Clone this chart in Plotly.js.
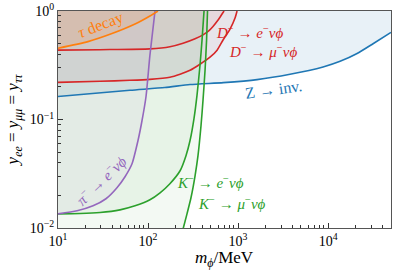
<!DOCTYPE html>
<html>
<head>
<meta charset="utf-8">
<script src="https://cdn.plot.ly/plotly-3.0.1.min.js"></script>
<style>html,body{margin:0;padding:0;background:#fff;}#chart{width:398px;height:275px;}</style>
</head>
<body>
<div id="chart"></div>
<script>
// ---- data (m_phi in MeV, coupling y) ----
const tauX = [10, 21.5, 39.8, 71.7, 105, 129];
const tauY = [0.454, 0.522, 0.619, 0.758, 0.899, 1.0];

const piX = [10, 16.3, 24.5, 34.1, 45.2, 55.5, 66.4, 77.4, 85.8, 95.0, 105, 119.6];
const piY = [0.0135, 0.0144, 0.0160, 0.0186, 0.0235, 0.0297, 0.0391, 0.0640, 0.0979, 0.163, 0.392, 1.0];

const kEX = [10, 17.6, 29.3, 48.8, 71.7, 105, 136, 175, 227, 264, 293, 324, 350, 378, 398, 419];
const kEY = [0.0135, 0.0136, 0.0139, 0.0147, 0.0160, 0.0182, 0.0211, 0.0256, 0.0337, 0.0464, 0.0640, 0.102, 0.167, 0.316, 0.539, 1.0];

const kMuX = [245, 271, 300, 333, 359, 388, 408, 430, 447, 458];
const kMuY = [0.0098, 0.0135, 0.0190, 0.0303, 0.0464, 0.0880, 0.150, 0.284, 0.539, 1.0];

const dEX = [10, 29.3, 105, 175, 245, 333, 408, 476, 527, 600, 664, 699];
const dEY = [0.4355, 0.440, 0.448, 0.469, 0.5055, 0.556, 0.603, 0.660, 0.721, 0.825, 0.938, 1.0];

const dMuX = [10, 29.3, 63, 105, 175, 227, 293, 378, 488, 585, 681, 815, 926, 975];
const dMuY = [0.220, 0.225, 0.2297, 0.2345, 0.245, 0.261, 0.284, 0.323, 0.375, 0.4355, 0.54, 0.681, 0.861, 1.0];

const zX = [10, 63, 154, 293, 687, 1626, 3780, 8800, 13600, 21000, 31900, 50000];
const zY = [0.163, 0.186, 0.197, 0.210, 0.2187, 0.233, 0.261, 0.305, 0.344, 0.406, 0.502, 0.635];

const xMin = 10, xMax = 50000, yMin = 0.01, yMax = 1;

const C = {orange:'#ff7f0e', red:'#d62728', blue:'#1f77b4', purple:'#9467bd', green:'#2ca02c'};
const rgba = (hex, a) => {
  const n = parseInt(hex.slice(1), 16);
  return `rgba(${(n>>16)&255},${(n>>8)&255},${n&255},${a})`;
};

// polygon: curve, then close along the top-left corner
function region(xs, ys, extraX, extraY, color, a) {
  return {x: xs.concat(extraX), y: ys.concat(extraY), mode: 'lines', fill: 'toself',
    fillcolor: rgba(color, a), line: {width: 0}, hoverinfo: 'skip', showlegend: false};
}
function curve(xs, ys, color) {
  return {x: xs, y: ys, mode: 'lines', line: {color: color, width: 1.6, shape: 'spline', smoothing: 0.6},
    hoverinfo: 'skip', showlegend: false};
}

const traces = [
  region(zX, zY, [xMax, xMin], [yMax, yMax], C.blue, 0.1),
  region(kMuX, kMuY, [xMin, xMin], [yMax, yMin], C.green, 0.06),
  region(kEX, kEY, [xMin], [yMax], C.green, 0.06),
  region(piX, piY, [xMin], [yMax], C.purple, 0.05),
  region(dMuX, dMuY, [xMin], [yMax], C.red, 0.06),
  region(dEX, dEY, [xMin], [yMax], C.red, 0.06),
  region(tauX, tauY, [xMin], [yMax], C.orange, 0.12),
  curve(zX, zY, C.blue),
  curve(dMuX, dMuY, C.red),
  curve(dEX, dEY, C.red),
  curve(kMuX, kMuY, C.green),
  curve(kEX, kEY, C.green),
  curve(piX, piY, C.purple),
  curve(tauX, tauY, C.orange)
];

const serif = 'Liberation Serif, DejaVu Serif, serif';
const lg = Math.log10;
function note(text, x, y, color, angle, size) {
  return {text: text, x: lg(x), y: lg(y), xref: 'x', yref: 'y', showarrow: false,
    textangle: angle || 0, font: {family: serif, size: size || 15, color: color},
    xanchor: 'center', yanchor: 'middle'};
}

const layout = {
  width: 398, height: 275,
  margin: {l: 58, r: 7, t: 11, b: 47},
  paper_bgcolor: '#fff', plot_bgcolor: '#fff',
  font: {family: serif, size: 14, color: '#000'},
  xaxis: {
    type: 'log', range: [lg(xMin), lg(xMax)],
    tickvals: [10, 100, 1000, 10000],
    ticktext: ['10<sup>1</sup>', '10<sup>2</sup>', '10<sup>3</sup>', '10<sup>4</sup>'],
    ticks: 'inside', ticklen: 5, tickcolor: '#333', showgrid: false, zeroline: false,
    showline: true, linecolor: '#555', linewidth: 1, mirror: true,
    minor: {ticks: 'inside', ticklen: 3, tickcolor: '#333', dtick: 'D1', showgrid: false},
    tickfont: {family: serif, size: 14}
  },
  yaxis: {
    type: 'log', range: [lg(yMin), lg(yMax)],
    tickvals: [0.01, 0.1, 1],
    ticktext: ['10<sup>−2</sup>', '10<sup>−1</sup>', '10<sup>0</sup>'],
    ticks: 'inside', ticklen: 5, tickcolor: '#333', showgrid: false, zeroline: false,
    showline: true, linecolor: '#555', linewidth: 1, mirror: true,
    minor: {ticks: 'inside', ticklen: 3, tickcolor: '#333', dtick: 'D1', showgrid: false},
    tickfont: {family: serif, size: 14},
    title: {text: '<i>y</i><sub><i>ee</i></sub> = <i>y</i><sub><i>μμ</i></sub> = <i>y</i><sub><i>ττ</i></sub>', font: {family: serif, size: 17}, standoff: 6}
  },
  annotations: [
    {text: '<i>m</i><sub><i>ϕ</i></sub>/MeV', xref: 'paper', yref: 'paper', x: 0.5, y: -0.145,
     xanchor: 'center', yanchor: 'middle', showarrow: false, font: {family: serif, size: 17, color: '#000'}},
    note('<i>τ</i> decay', 29.8, 0.746, C.orange, -21, 16),
    note('<i>D</i><sup>−</sup> → <i>e</i><sup>−</sup><i>νϕ</i>', 1359, 0.643, C.red),
    note('<i>D</i><sup>−</sup> → <i>μ</i><sup>−</sup><i>νϕ</i>', 1897, 0.429, C.red),
    note('Z → inv.', 2449, 0.190, C.blue, -8, 16),
    note('<i>π</i><sup>−</sup> → <i>e</i><sup>−</sup><i>νϕ</i>', 29.8, 0.0278, C.purple, -44),
    note('<i>K</i><sup>−</sup> → <i>e</i><sup>−</sup><i>νϕ</i>', 489, 0.0267, C.green),
    note('<i>K</i><sup>−</sup> → <i>μ</i><sup>−</sup><i>νϕ</i>', 858, 0.0170, C.green)
  ]
};

Plotly.newPlot('chart', traces, layout, {staticPlot: true, displayModeBar: false});
</script>
</body>
</html>
